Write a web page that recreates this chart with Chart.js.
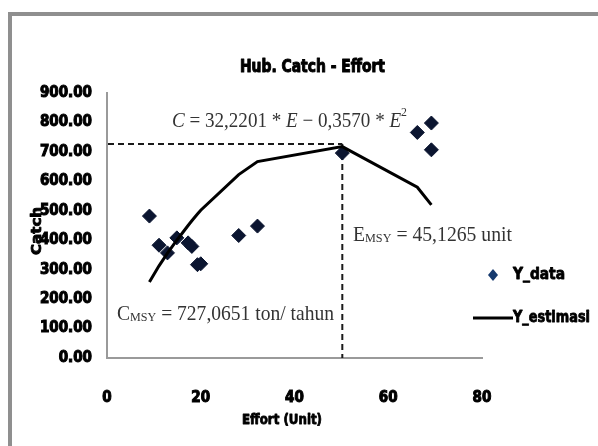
<!DOCTYPE html>
<html>
<head>
<meta charset="utf-8">
<script src="https://cdn.jsdelivr.net/npm/chart.js@4.4.0/dist/chart.umd.min.js"></script>
<style>
  html, body { margin: 0; padding: 0; background: #fff; overflow: hidden; }
  #frame {
    position: absolute; left: 8px; top: 12px; width: 640px; height: 480px;
    border-left: 4px solid #8f8f8f; border-top: 4px solid #8f8f8f;
  }
  #chart0 { position: absolute; left: 0; top: 0; }
</style>
</head>
<body>
<div id="frame"></div>
<canvas id="chart0" width="598" height="446"></canvas>
<script>
// data
const effort    = [9.05, 11.1, 12.9, 14.9, 17.3, 18.1, 19.3, 20.0, 28.1, 32.1, 50.2, 66.2, 69.2, 69.2];
const catchData = [482, 383, 357, 408, 391, 379, 317, 320, 416, 448, 696, 766, 798, 707];

// garis estimasi (titik-titik sudut garis)
const estEffort = [9.05, 11.1, 12.9, 14.9, 17.3, 18.1, 19.3, 20.0, 28.1, 32.1, 50.2, 66.2, 69.2];
const estCatch  = [258, 313, 356, 400, 450, 466, 489, 502, 623, 667, 718, 580, 520];

const xTicks = [0, 20, 40, 60, 80];
const yTicks = [0, 100, 200, 300, 400, 500, 600, 700, 800, 900];

// garis putus-putus MSY
const cMsy  = 727;
const dashE = 50.2;

const boldFont = "'DejaVu Sans Condensed', 'DejaVu Sans', sans-serif";
const serif = "'Liberation Serif', 'DejaVu Serif', serif";

// gambar teks dengan lebar tertentu (dipadatkan horizontal)
function drawParts(ctx, parts, left, midY, targetW, color, stroke) {
  let total = 0;
  parts.forEach(p => { ctx.font = p.font; p.w = ctx.measureText(p.t).width; total += p.w; });
  const sx = targetW / total;
  ctx.save();
  ctx.translate(left, midY);
  ctx.scale(sx, 1);
  ctx.fillStyle = color;
  ctx.strokeStyle = color;
  ctx.lineWidth = stroke || 0;
  ctx.lineJoin = 'round';
  ctx.textBaseline = 'middle';
  ctx.textAlign = 'left';
  let x = 0;
  parts.forEach(p => {
    ctx.font = p.font;
    if (stroke) ctx.strokeText(p.t, x, p.dy || 0);
    ctx.fillText(p.t, x, p.dy || 0);
    x += p.w;
  });
  ctx.restore();
}

const msyLines = {
  id: 'msyLines',
  beforeDatasetsDraw(chart) {
    const ctx = chart.ctx;
    const xs = chart.scales.x, ys = chart.scales.y;
    const px = xs.getPixelForValue(dashE);
    const py = ys.getPixelForValue(cMsy);
    ctx.save();
    ctx.strokeStyle = '#1a1a1a';
    ctx.lineWidth = 2;
    ctx.setLineDash([6, 4]);
    ctx.beginPath();
    ctx.moveTo(chart.chartArea.left + 1, py);
    ctx.lineTo(px, py);
    ctx.moveTo(px, py);
    ctx.lineTo(px, chart.chartArea.bottom);
    ctx.stroke();
    ctx.restore();
  }
};

const texts = {
  id: 'texts',
  afterDraw(chart) {
    const ctx = chart.ctx;
    // judul
    drawParts(ctx, [{ t: 'Hub. Catch - Effort', font: 'bold 18px ' + boldFont }], 240, 67, 145, '#000', 1);
    // persamaan
    drawParts(ctx, [
      { t: 'C', font: 'italic 21px ' + serif },
      { t: ' = 32,2201 * ', font: '21px ' + serif },
      { t: 'E', font: 'italic 21px ' + serif },
      { t: ' \u2212 0,3570 * ', font: '21px ' + serif },
      { t: 'E', font: 'italic 21px ' + serif },
      { t: '2', font: '13px ' + serif, dy: -8 }
    ], 172, 121, 235, '#333');
    drawParts(ctx, [
      { t: 'C', font: '21px ' + serif },
      { t: 'MSY', font: '13px ' + serif, dy: 4 },
      { t: ' = 727,0651 ton/ tahun', font: '21px ' + serif }
    ], 117, 314, 217, '#333');
    drawParts(ctx, [
      { t: 'E', font: '21px ' + serif },
      { t: 'MSY', font: '13px ' + serif, dy: 4 },
      { t: ' = 45,1265 unit', font: '21px ' + serif }
    ], 353, 235, 159, '#333');
    // judul sumbu
    drawParts(ctx, [{ t: 'Effort (Unit)', font: 'bold 14px ' + boldFont }], 242, 420, 80, '#000', 0.8);
    ctx.save();
    ctx.translate(37, 231);
    ctx.rotate(-Math.PI / 2);
    drawParts(ctx, [{ t: 'Catch', font: 'bold 14px ' + boldFont }], -24, 0, 48, '#000', 0.8);
    ctx.restore();
    // legenda
    ctx.save();
    ctx.fillStyle = '#163a6e';
    ctx.beginPath();
    ctx.moveTo(493, 269); ctx.lineTo(498, 275); ctx.lineTo(493, 281); ctx.lineTo(488, 275);
    ctx.closePath(); ctx.fill();
    ctx.strokeStyle = '#000'; ctx.lineWidth = 3;
    ctx.beginPath(); ctx.moveTo(473, 318); ctx.lineTo(513, 318); ctx.stroke();
    ctx.restore();
    drawParts(ctx, [{ t: 'Y_data', font: 'bold 16px ' + boldFont }], 513, 275, 52, '#000', 0.8);
    drawParts(ctx, [{ t: 'Y_estimasi', font: 'bold 16px ' + boldFont }], 513, 318, 77, '#000', 0.8);
  }
};

const ctx = document.getElementById('chart0').getContext('2d');
const chart0 = new Chart(ctx, {
  type: 'scatter',
  data: {
    datasets: [
      {
        label: 'Y_estimasi',
        data: estEffort.map((e, i) => ({ x: e, y: estCatch[i] })),
        showLine: true,
        borderColor: '#000',
        borderWidth: 3,
        pointRadius: 0,
        tension: 0,
        order: 0
      },
      {
        label: 'Y_data',
        data: effort.map((e, i) => ({ x: e, y: catchData[i] })),
        pointStyle: 'rectRot',
        pointRadius: 7,
        backgroundColor: '#0b1530',
        borderColor: '#0b1530',
        borderWidth: 1,
        order: 1
      }
    ]
  },
  options: {
    responsive: false,
    animation: false,
    layout: { padding: { top: 93, right: 116, left: 0, bottom: 0 } },
    plugins: {
      legend: { display: false },
      title: { display: false },
      tooltip: { enabled: false }
    },
    scales: {
      x: {
        type: 'linear',
        min: 0, max: 80,
        afterBuildTicks: s => { s.ticks = xTicks.map(v => ({ value: v })); },
        afterFit: s => { s.height = 88; },
        ticks: {
          padding: 31, color: '#000',
          textStrokeColor: '#000', textStrokeWidth: 1,
          font: { family: boldFont, weight: 'bold', size: 15 }
        },
        grid: { display: false, drawTicks: false },
        border: { color: '#9a9a9a', width: 2 }
      },
      y: {
        type: 'linear',
        min: 0, max: 900,
        afterBuildTicks: s => { s.ticks = yTicks.map(v => ({ value: v })); },
        afterFit: s => { s.width = 107; },
        ticks: {
          padding: 15, color: '#000',
          textStrokeColor: '#000', textStrokeWidth: 1,
          font: { family: boldFont, weight: 'bold', size: 15 },
          callback: v => v.toFixed(2)
        },
        grid: { display: false, drawTicks: false },
        border: { color: '#9a9a9a', width: 2 }
      }
    }
  },
  plugins: [msyLines, texts]
});
</script>
</body>
</html>
